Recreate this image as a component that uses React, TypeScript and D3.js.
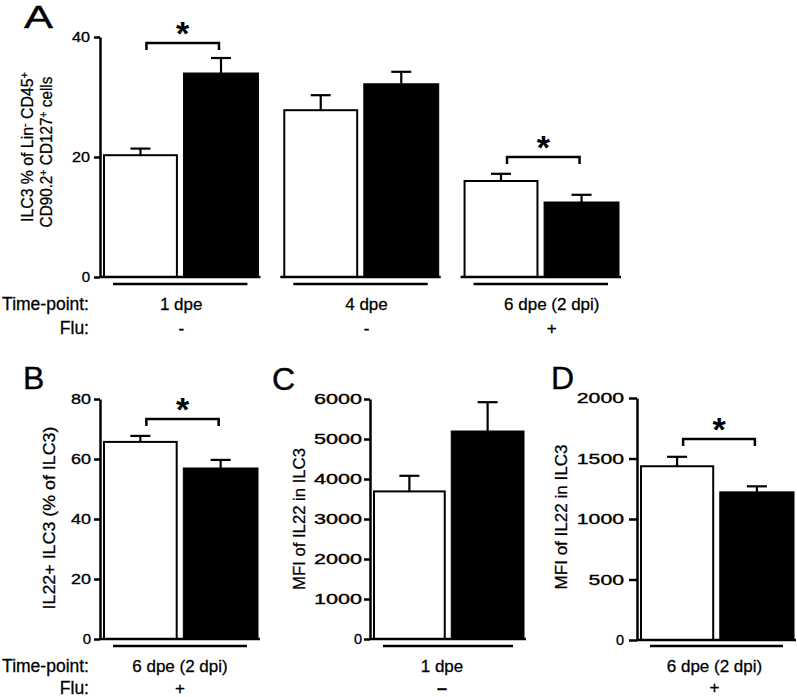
import React, { useEffect, useLayoutEffect, useRef, useState } from "react";
import * as d3 from "d3";

const FONT = "'Liberation Sans', Arial, Helvetica, sans-serif";
const HEAVY = 0.35;

// ---------- Panel A data ----------
const timePointsA = ["1 dpe", "4 dpe", "6 dpe (2 dpi)"];
const fluA = ["-", "-", "+"];
const ctrlMeanA = [20.3, 27.8, 16.0];
const ctrlSemA = [1.1, 2.5, 1.2];
const trtMeanA = [34.0, 32.2, 12.5];
const trtSemA = [2.5, 2.0, 1.2];
const sigA: (number | null)[] = [39, null, 20];
const ticksA = [0, 20, 40];

// ---------- Panel B data ----------
const timePointsB = ["6 dpe (2 dpi)"];
const fluB = ["+"];
const ctrlMeanB = [65.7];
const ctrlSemB = [2.0];
const trtMeanB = [57.0];
const trtSemB = [2.7];
const sigB: (number | null)[] = [73.3];
const ticksB = [0, 20, 40, 60, 80];

// ---------- Panel C data ----------
const timePointsC = ["1 dpe"];
const fluC = ["–"];
const ctrlMeanC = [3690];
const ctrlSemC = [390];
const trtMeanC = [5200];
const trtSemC = [720];
const sigC: (number | null)[] = [null];
const ticksC = [0, 1000, 2000, 3000, 4000, 5000, 6000];

// ---------- Panel D data ----------
const timePointsD = ["6 dpe (2 dpi)"];
const fluD = ["+"];
const ctrlMeanD = [1436];
const ctrlSemD = [78];
const trtMeanD = [1224];
const trtSemD = [46];
const sigD: (number | null)[] = [1661];
const ticksD = [0, 500, 1000, 1500, 2000];

type Group = {
  label: string;
  flu: string;
  ctrl: number;
  ctrlSem: number;
  trt: number;
  trtSem: number;
  sig: number | null;
};

function buildGroups(
  labels: string[],
  flu: string[],
  cm: number[],
  cs: number[],
  tm: number[],
  ts: number[],
  sig: (number | null)[]
): Group[] {
  return labels.map((label, i) => ({
    label,
    flu: flu[i],
    ctrl: cm[i],
    ctrlSem: cs[i],
    trt: tm[i],
    trtSem: ts[i],
    sig: sig[i],
  }));
}

// Text whose run length is fitted to a target by a scale along its own direction
function StretchText({
  x,
  y,
  rotate = 0,
  len,
  anchor = "middle",
  size,
  heavy = HEAVY,
  children,
}: {
  x: number;
  y: number;
  rotate?: number;
  len?: number;
  anchor?: string;
  size: number;
  heavy?: number;
  children: React.ReactNode;
}) {
  const ref = useRef<SVGTextElement>(null);
  const [s, setS] = useState(1);
  useLayoutEffect(() => {
    if (ref.current && len) {
      const natural = ref.current.getComputedTextLength();
      if (natural > 0) setS(len / natural);
    }
  }, [len]);
  return (
    <text
      ref={ref}
      transform={`translate(${x},${y}) rotate(${rotate}) scale(${s},1)`}
      textAnchor={anchor}
      fontFamily={FONT}
      fontSize={size}
      fill="#000"
      stroke="#000"
      strokeWidth={heavy}
    >
      {children}
    </text>
  );
}

type YLabelLine = { parts: { t: string; sup?: boolean }[]; x: number; y: number; len?: number };

type PanelCfg = {
  letter: string;
  letterX: number;
  letterY: number;
  letterLen?: number;
  axisX: number;
  y0: number;
  yTop: number;
  domain: [number, number];
  ticks: number[];
  tickSize: number;
  tickPad: number;
  tickFont: number;
  digitW: number | null;
  bandRange: [number, number];
  bandPad: number;
  groups: Group[];
  labelDx: number[];
  underlineDy: number;
  labelY: number;
  fluY: number;
  fluBold: boolean;
  rowLabels: boolean;
  yLabel: YLabelLine[];
  yLabelSize: number;
};

function Panel({ cfg }: { cfg: PanelCfg }) {
  const axisRef = useRef<SVGGElement>(null);
  const y = d3.scaleLinear().domain(cfg.domain).range([cfg.y0, cfg.yTop]);
  const band = d3
    .scaleBand<string>()
    .domain(cfg.groups.map((g) => g.label))
    .range(cfg.bandRange)
    .paddingInner(cfg.bandPad);

  useEffect(() => {
    if (!axisRef.current) return;
    const g = d3.select(axisRef.current);
    g.selectAll("*").remove();
    const axis = d3
      .axisLeft(y)
      .tickValues(cfg.ticks)
      .tickSize(cfg.tickSize)
      .tickSizeOuter(0)
      .tickPadding(cfg.tickPad)
      .tickFormat(d3.format("d"));
    g.call(axis as any);
    g.attr("font-family", FONT).attr("font-size", cfg.tickFont);
    g.select(".domain").attr("stroke", "#000").attr("stroke-width", 2.5);
    g.selectAll(".tick line").attr("stroke", "#000").attr("stroke-width", 2.5);
    g.selectAll<SVGTextElement, number>(".tick text")
      .attr("fill", "#000")
      .attr("stroke", "#000")
      .attr("stroke-width", HEAVY)
      .each(function (d) {
        const s = String(d);
        if (cfg.digitW && s.length > 1) {
          d3.select(this)
            .attr("textLength", cfg.digitW * s.length)
            .attr("lengthAdjust", "spacingAndGlyphs");
        }
      });
  }, []);

  const inner = (g: Group) => {
    const x0 = band(g.label)!;
    const w = band.bandwidth();
    return d3
      .scaleBand<string>()
      .domain(["ctrl", "trt"])
      .range([x0 + 3, x0 + w - 2])
      .paddingInner(0.07);
  };

  return (
    <g>
      <StretchText x={cfg.letterX} y={cfg.letterY} len={cfg.letterLen} anchor="start" size={32} heavy={0.4}>
        {cfg.letter}
      </StretchText>

      {cfg.yLabel.map((line, i) => (
        <StretchText key={i} x={line.x} y={line.y} rotate={-90} len={line.len} size={cfg.yLabelSize} heavy={HEAVY * 0.8}>
          {line.parts.map((p, j) =>
            p.sup ? (
              <tspan key={j} dy={-5} fontSize={cfg.yLabelSize * 0.7}>
                {p.t}
              </tspan>
            ) : (
              <tspan key={j} dy={j > 0 && line.parts[j - 1].sup ? 5 : 0}>
                {p.t}
              </tspan>
            )
          )}
        </StretchText>
      ))}

      {cfg.groups.map((g, gi) => {
        const ib = inner(g);
        const bx = band(g.label)!;
        const bw = band.bandwidth();
        const xc = ib("ctrl")!;
        const xt = ib("trt")!;
        const w = ib.bandwidth();
        const cx = bx + bw / 2 + cfg.labelDx[gi];
        return (
          <g key={g.label}>
            {/* error bars */}
            <line x1={xc + w / 2} x2={xc + w / 2} y1={y(g.ctrl)} y2={y(g.ctrl + g.ctrlSem)} stroke="#000" strokeWidth={2.2} />
            <line x1={xc + w / 2 - 10} x2={xc + w / 2 + 10} y1={y(g.ctrl + g.ctrlSem)} y2={y(g.ctrl + g.ctrlSem)} stroke="#000" strokeWidth={2.2} />
            <line x1={xt + w / 2} x2={xt + w / 2} y1={y(g.trt)} y2={y(g.trt + g.trtSem)} stroke="#000" strokeWidth={2.2} />
            <line x1={xt + w / 2 - 10} x2={xt + w / 2 + 10} y1={y(g.trt + g.trtSem)} y2={y(g.trt + g.trtSem)} stroke="#000" strokeWidth={2.2} />
            {/* bars */}
            <rect x={xc + 1} y={y(g.ctrl)} width={w - 2} height={cfg.y0 - y(g.ctrl)} fill="#fff" stroke="#000" strokeWidth={2} />
            <rect x={xt} y={y(g.trt)} width={w} height={cfg.y0 - y(g.trt)} fill="#000" stroke="#000" strokeWidth={1} />
            {/* baseline segment */}
            <line x1={bx} x2={bx + bw} y1={cfg.y0} y2={cfg.y0} stroke="#000" strokeWidth={2.5} />
            {/* group underline */}
            <line x1={bx + 13} x2={bx + bw - 13} y1={cfg.y0 + cfg.underlineDy} y2={cfg.y0 + cfg.underlineDy} stroke="#000" strokeWidth={2.5} />
            {/* significance */}
            {g.sig !== null && (
              <g>
                <path
                  d={`M${xc + w / 2 + 6},${y(g.sig) + 7}V${y(g.sig)}H${xt + w / 2 - 2}V${y(g.sig) + 7}`}
                  fill="none"
                  stroke="#000"
                  strokeWidth={2.5}
                />
                <text
                  x={(xc + w / 2 + 6 + xt + w / 2 - 2) / 2}
                  y={y(g.sig) + 2}
                  textAnchor="middle"
                  fontFamily={FONT}
                  fontWeight="bold"
                  fontSize={34}
                  fill="#000"
                >
                  *
                </text>
              </g>
            )}
            <text x={cx} y={cfg.labelY} textAnchor="middle" fontFamily={FONT} fontSize={17} fill="#000" stroke="#000" strokeWidth={HEAVY * 0.8}>
              {g.label}
            </text>
            <text
              x={cx}
              y={cfg.fluY}
              textAnchor="middle"
              fontFamily={FONT}
              fontSize={cfg.fluBold ? 18 : 17}
              fontWeight={cfg.fluBold ? "bold" : "normal"}
              fill="#000"
              stroke="#000"
              strokeWidth={HEAVY}
            >
              {g.flu}
            </text>
          </g>
        );
      })}

      <g ref={axisRef} transform={`translate(${cfg.axisX},0)`} />

      {cfg.rowLabels && (
        <g fontFamily={FONT} fontSize={17.5} fill="#000" stroke="#000" strokeWidth={HEAVY * 0.8} textAnchor="end">
          <text x={89} y={cfg.labelY}>Time-point:</text>
          <text x={89} y={cfg.fluY}>Flu:</text>
        </g>
      )}
    </g>
  );
}

const panelA: PanelCfg = {
  letter: "A",
  letterX: 24,
  letterY: 28,
  letterLen: 29,
  axisX: 100,
  y0: 277,
  yTop: 37,
  domain: [0, 40],
  ticks: ticksA,
  tickSize: 6,
  tickPad: 4,
  tickFont: 15,
  digitW: 9,
  bandRange: [100, 621],
  bandPad: 0.11,
  groups: buildGroups(timePointsA, fluA, ctrlMeanA, ctrlSemA, trtMeanA, trtSemA, sigA),
  labelDx: [1, 6, 11],
  underlineDy: 7,
  labelY: 310,
  fluY: 334,
  fluBold: false,
  rowLabels: true,
  yLabel: [
    { x: 33, y: 147, len: 150, parts: [{ t: "ILC3 % of Lin" }, { t: "-", sup: true }, { t: " CD45" }, { t: "+", sup: true }] },
    { x: 52, y: 152, len: 151, parts: [{ t: "CD90.2" }, { t: "+", sup: true }, { t: " CD127" }, { t: "+", sup: true }, { t: " cells" }] },
  ],
  yLabelSize: 16,
};

const panelB: PanelCfg = {
  letter: "B",
  letterX: 23,
  letterY: 389,
  axisX: 100,
  y0: 639,
  yTop: 399,
  domain: [0, 80],
  ticks: ticksB,
  tickSize: 6,
  tickPad: 3,
  tickFont: 15,
  digitW: 10,
  bandRange: [100, 260],
  bandPad: 0,
  groups: buildGroups(timePointsB, fluB, ctrlMeanB, ctrlSemB, trtMeanB, trtSemB, sigB),
  labelDx: [0],
  underlineDy: 7,
  labelY: 672,
  fluY: 694,
  fluBold: false,
  rowLabels: true,
  yLabel: [{ x: 55, y: 518, len: 183, parts: [{ t: "IL22+ ILC3 (% of ILC3)" }] }],
  yLabelSize: 16,
};

const panelC: PanelCfg = {
  letter: "C",
  letterX: 272,
  letterY: 390,
  axisX: 370,
  y0: 639,
  yTop: 399,
  domain: [0, 6000],
  ticks: ticksC,
  tickSize: 6,
  tickPad: 2,
  tickFont: 14.5,
  digitW: 12,
  bandRange: [370, 526],
  bandPad: 0,
  groups: buildGroups(timePointsC, fluC, ctrlMeanC, ctrlSemC, trtMeanC, trtSemC, sigC),
  labelDx: [-6],
  underlineDy: 7,
  labelY: 672,
  fluY: 694,
  fluBold: true,
  rowLabels: false,
  yLabel: [{ x: 305, y: 519, len: 142, parts: [{ t: "MFI of IL22 in ILC3" }] }],
  yLabelSize: 16.5,
};

const panelD: PanelCfg = {
  letter: "D",
  letterX: 551,
  letterY: 389,
  axisX: 637,
  y0: 640,
  yTop: 398,
  domain: [0, 2000],
  ticks: ticksD,
  tickSize: 8,
  tickPad: 5,
  tickFont: 14.5,
  digitW: 11.8,
  bandRange: [637, 796],
  bandPad: 0,
  groups: buildGroups(timePointsD, fluD, ctrlMeanD, ctrlSemD, trtMeanD, trtSemD, sigD),
  labelDx: [-2],
  underlineDy: 6,
  labelY: 672,
  fluY: 693,
  fluBold: false,
  rowLabels: false,
  yLabel: [{ x: 567, y: 517, len: 145, parts: [{ t: "MFI of IL22 in ILC3" }] }],
  yLabelSize: 16.5,
};

export default function App() {
  return (
    <svg
      width={797}
      height={697}
      viewBox="0 0 797 697"
      style={{ position: "absolute", left: 0, top: 0, background: "#fff" }}
    >
      <rect width={797} height={697} fill="#fff" />
      <Panel cfg={panelA} />
      <Panel cfg={panelB} />
      <Panel cfg={panelC} />
      <Panel cfg={panelD} />
    </svg>
  );
}
